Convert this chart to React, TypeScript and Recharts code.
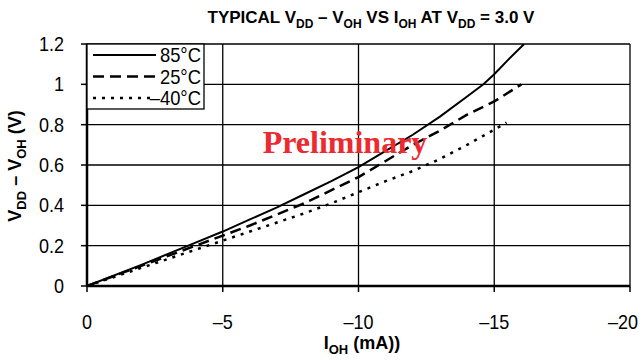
import React from "react";
import { LineChart, Line, XAxis, YAxis, CartesianGrid } from "recharts";

const FONT = '"Liberation Sans Narrow", "Liberation Sans", Arial, sans-serif';

const xTicks = [0, -5, -10, -15, -20];
const yTicks = [0, 0.2, 0.4, 0.6, 0.8, 1, 1.2];

const ioh85 = [0, -2, -4, -5, -6, -7, -8, -9, -10, -11, -12, -13, -14, -14.6, -15, -15.5, -16.1];
const v85 = [0, 0.105, 0.215, 0.27, 0.33, 0.39, 0.455, 0.52, 0.59, 0.67, 0.75, 0.84, 0.94, 1.0, 1.05, 1.12, 1.2];

const ioh25 = [0, -2, -4, -5, -6, -8, -10, -11, -12, -13, -14, -15, -16];
const v25 = [0, 0.1, 0.2, 0.25, 0.3, 0.41, 0.54, 0.62, 0.7, 0.77, 0.85, 0.915, 1.0];

const iohM40 = [0, -2, -4, -5, -6, -8, -9, -10, -11, -12, -13, -14, -15, -15.45];
const vM40 = [0, 0.09, 0.18, 0.225, 0.27, 0.36, 0.41, 0.465, 0.52, 0.57, 0.63, 0.7, 0.775, 0.81];

const seriesNames = ["85°C", "25°C", "–40°C"];
const dashes = ["", "11 6", "3 6"];
const widths = [2, 2.5, 2.5];

const toRows = (xs: number[], ys: number[]) => xs.map((x, i) => ({ x, y: ys[i] }));
const data85 = toRows(ioh85, v85);
const data25 = toRows(ioh25, v25);
const dataM40 = toRows(iohM40, vM40);

const fmtX = (v: number) => (v === 0 ? "0" : "–" + Math.abs(v));
const fmtY = (v: number) => String(Math.round(v * 10) / 10);

const XTick = (props: any) => {
  const { x, y, payload } = props;
  const shift = payload.value === -20 ? -7 : 0;
  return (
    <g transform={`translate(${x + shift},${y}) scale(0.9,1)`}>
      <text x={0} y={0} dy={15} textAnchor="middle" fontFamily={FONT} fontSize={20} fill="#000">
        {fmtX(payload.value)}
      </text>
    </g>
  );
};

const YTick = (props: any) => {
  const { x, y, payload } = props;
  return (
    <g transform={`translate(${x},${y}) scale(0.9,1)`}>
      <text x={0} y={0} dy={7} textAnchor="end" fontFamily={FONT} fontSize={20} fill="#000">
        {fmtY(payload.value)}
      </text>
    </g>
  );
};

export default function App() {
  return (
    <div style={{ position: "absolute", left: 0, top: 0, width: 640, height: 360, background: "#fff" }}>
      <LineChart width={640} height={360} margin={{ top: 44, right: 10, left: 27, bottom: 34 }}>
        <CartesianGrid stroke="#000" strokeWidth={1.3} horizontalValues={yTicks} verticalValues={xTicks} />
        <XAxis
          type="number"
          dataKey="x"
          domain={[-20, 0]}
          reversed
          ticks={xTicks}
          interval={0}
          height={40}
          axisLine={{ stroke: "#000", strokeWidth: 2.5 }}
          tickLine={{ stroke: "#000", strokeWidth: 1.5 }}
          tickSize={6}
          tickMargin={22}
          tick={<XTick />}
        />
        <YAxis
          type="number"
          domain={[0, 1.2]}
          ticks={yTicks}
          interval={0}
          width={60}
          axisLine={{ stroke: "#000", strokeWidth: 2.5 }}
          tickLine={{ stroke: "#000", strokeWidth: 1.5 }}
          tickSize={6}
          tickMargin={17}
          tick={<YTick />}
          allowDataOverflow
        />
        <Line data={data85} dataKey="y" name={seriesNames[0]} stroke="#000" strokeWidth={widths[0]} dot={false} isAnimationActive={false} type="linear" />
        <Line data={data25} dataKey="y" name={seriesNames[1]} stroke="#000" strokeWidth={widths[1]} strokeDasharray={dashes[1]} dot={false} isAnimationActive={false} type="linear" />
        <Line data={dataM40} dataKey="y" name={seriesNames[2]} stroke="#000" strokeWidth={widths[2]} strokeDasharray={dashes[2]} dot={false} isAnimationActive={false} type="linear" />
      </LineChart>
      <svg width={640} height={360} style={{ position: "absolute", left: 0, top: 0, pointerEvents: "none" }}>
        <g>
          <rect x={87} y={44} width={117} height={65} fill="#fff" stroke="#000" strokeWidth={1.3} />
          {seriesNames.map((n, i) => (
            <g key={n}>
              <line x1={93} y1={55 + i * 21.5} x2={156} y2={55 + i * 21.5} stroke="#000" strokeWidth={widths[i]} strokeDasharray={dashes[i] || undefined} />
              <g transform={`translate(201,${62 + i * 21.5}) scale(0.92,1)`}>
                <text x={0} y={0} textAnchor="end" fontFamily={FONT} fontSize={20} fill="#000">{n}</text>
              </g>
            </g>
          ))}
        </g>
        <text x={371} y={23} textAnchor="middle" fontFamily={FONT} fontWeight="bold" fontSize={17} fill="#000">
          <tspan>TYPICAL V</tspan>
          <tspan fontSize={12} dy={5}>DD</tspan>
          <tspan dy={-5}> – V</tspan>
          <tspan fontSize={12} dy={5}>OH</tspan>
          <tspan dy={-5}> VS I</tspan>
          <tspan fontSize={12} dy={5}>OH</tspan>
          <tspan dy={-5}> AT V</tspan>
          <tspan fontSize={12} dy={5}>DD</tspan>
          <tspan dy={-5}> = 3.0 V</tspan>
        </text>
        <text x={362} y={349} textAnchor="middle" fontFamily={FONT} fontWeight="bold" fontSize={18} fill="#000">
          <tspan>I</tspan>
          <tspan fontSize={13} dy={5}>OH</tspan>
          <tspan dy={-5}> (mA))</tspan>
        </text>
        <text x={0} y={0} transform="translate(21,166) rotate(-90)" textAnchor="middle" fontFamily={FONT} fontWeight="bold" fontSize={18} fill="#000">
          <tspan>V</tspan>
          <tspan fontSize={13} dy={5}>DD</tspan>
          <tspan dy={-5}> – V</tspan>
          <tspan fontSize={13} dy={5}>OH</tspan>
          <tspan dy={-5}> (V)</tspan>
        </text>
        <text x={345} y={153} textAnchor="middle" fontFamily='"Liberation Serif", "DejaVu Serif", serif' fontWeight="bold" fontSize={32} fill="#ec2a2f">
          Preliminary
        </text>
      </svg>
    </div>
  );
}
